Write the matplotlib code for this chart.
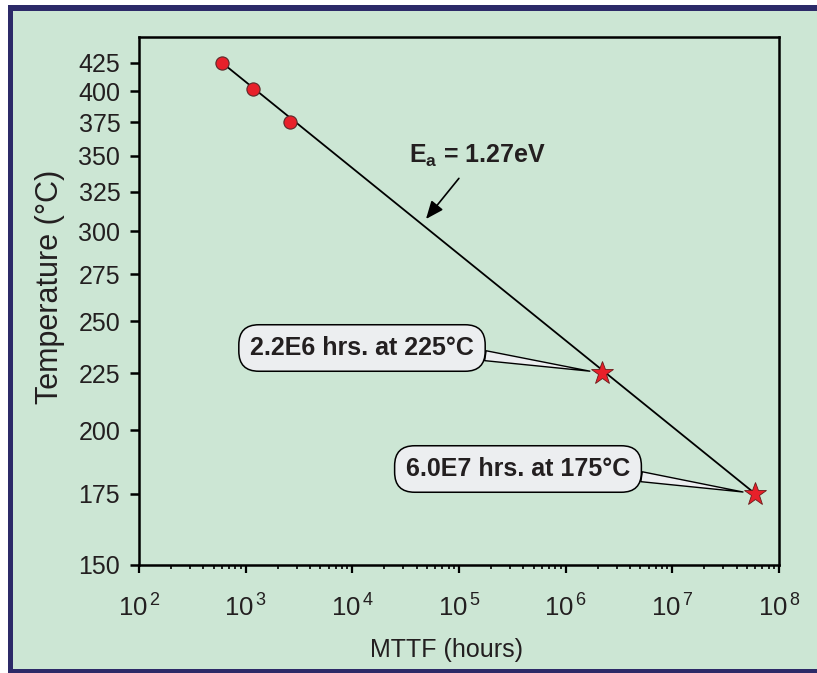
import matplotlib
matplotlib.use("Agg")
import matplotlib.pyplot as plt
from matplotlib.patches import Rectangle
import numpy as np

# ---- data ----
test_hours = [600, 1170, 2600]
test_temps = [425, 402, 375]
pred_hours = [2.2e6, 6.0e7]
pred_temps = [225, 175]
line_hours = [600, 6.0e7]
line_temps = [425, 175]
y_ticks = [150, 175, 200, 225, 250, 275, 300, 325, 350, 375, 400, 425]
x_ticks = [1e2, 1e3, 1e4, 1e5, 1e6, 1e7, 1e8]
callouts = ["2.2E6 hrs. at 225°C", "6.0E7 hrs. at 175°C"]
ea_label = r"E$_\mathbf{a}$ = 1.27eV"

plt.rcParams['font.family'] = ['Liberation Sans', 'DejaVu Sans']
plt.rcParams['mathtext.fontset'] = 'custom'
plt.rcParams['mathtext.rm'] = 'Liberation Sans'
plt.rcParams['mathtext.it'] = 'Liberation Sans'
plt.rcParams['mathtext.bf'] = 'Liberation Sans:bold'

TXT = "#231f20"
GREEN = "#cce6d4"
NAVY = "#2c2a68"

fig = plt.figure(figsize=(8.17, 6.73), dpi=100, facecolor="white")
W, H = 817, 673
fig.patches.append(Rectangle((8 / W, 0), 1, (H - 5) / H, transform=fig.transFigure,
                             facecolor=NAVY, edgecolor="none", zorder=-10))
fig.patches.append(Rectangle((13 / W, 4 / H), 1, (H - 10.7 - 4) / H, transform=fig.transFigure,
                             facecolor=GREEN, edgecolor="none", zorder=-9))

ax = fig.add_axes([139 / W, 1 - 565 / H, (779 - 139) / W, (565 - 37) / H])
ax.set_facecolor(GREEN)

def fwd(t):
    t = np.asarray(t, dtype=float)
    return -1.0 / (t + 273.15)

def inv(v):
    v = np.asarray(v, dtype=float)
    with np.errstate(divide='ignore'):
        return -1.0 / v - 273.15

ax.set_yscale('function', functions=(fwd, inv))
ax.set_xscale('log')
ax.set_xlim(1e2, 1e8)
ax.set_ylim(150, 449)
ax.set_yticks(y_ticks)
ax.set_yticklabels([str(t) for t in y_ticks])
ax.yaxis.set_minor_locator(matplotlib.ticker.NullLocator())
ax.set_xticks(x_ticks)
ax.set_xticklabels([r"$10^{\,%d}$" % int(np.log10(v)) for v in x_ticks])
ax.xaxis.set_minor_locator(matplotlib.ticker.LogLocator(base=10, subs=np.arange(2, 10)))
ax.xaxis.set_minor_formatter(matplotlib.ticker.NullFormatter())

for s in ax.spines.values():
    s.set_linewidth(1.8)
    s.set_color("black")

ax.tick_params(axis='y', which='major', direction='out', length=6.5, width=1.8,
               labelsize=18, pad=7)
ax.tick_params(axis='x', which='major', direction='out', length=5.5, width=1.6,
               labelsize=18.5, pad=16)
ax.tick_params(axis='x', which='minor', direction='out', length=3, width=1.2)
ax.tick_params(axis='both', colors="black", labelcolor=TXT)

ax.set_xlabel("MTTF (hours)", fontsize=18, color=TXT)
ax.set_ylabel("Temperature (°C)", fontsize=22, color=TXT)
ax.xaxis.set_label_coords(0.48, -0.138)
ax.yaxis.set_label_coords(-0.115, 0.527)

ax.plot(line_hours, line_temps, color="black", lw=1.3, zorder=2)
ax.plot(test_hours, test_temps, 'o', color="#e8202a", markeredgecolor="#5a2a2a",
        markeredgewidth=0.8, markersize=9.5, zorder=3)
ax.plot(pred_hours, pred_temps, '*', color="#e8202a", markeredgecolor="#6a1a1a",
        markeredgewidth=0.6, markersize=17, zorder=3)

# Ea annotation
ax.annotate(ea_label, xy=(426, H - 219), xycoords='figure pixels',
            xytext=(477, H - 156), textcoords='figure pixels',
            ha='center', va='center', fontsize=18, fontweight='bold', color=TXT,
            arrowprops=dict(arrowstyle='-|>,head_length=0.6,head_width=0.25',
                            color="black", lw=1.2, shrinkA=6, shrinkB=0))

# callouts
text_pos = [(362, H - 348), (518, H - 469)]
for label, hx, ty, (tx, tyy) in zip(callouts, pred_hours, pred_temps, text_pos):
    ax.annotate(label, xy=(hx, ty), xycoords='data',
                xytext=(tx, tyy), textcoords='figure pixels',
                ha='center', va='center', fontsize=18, fontweight='bold', color=TXT,
                bbox=dict(boxstyle='round,pad=0.45,rounding_size=0.8', fc="#eceef0",
                          ec="black", lw=1.1),
                arrowprops=dict(arrowstyle='wedge,tail_width=0.4,shrink_factor=0.5',
                                fc="#eceef0", ec="black", lw=1.0,
                                relpos=(1.0, 0.25), shrinkA=0, shrinkB=9),
                zorder=4)

fig.savefig("out.png", dpi=100, facecolor=fig.get_facecolor())
